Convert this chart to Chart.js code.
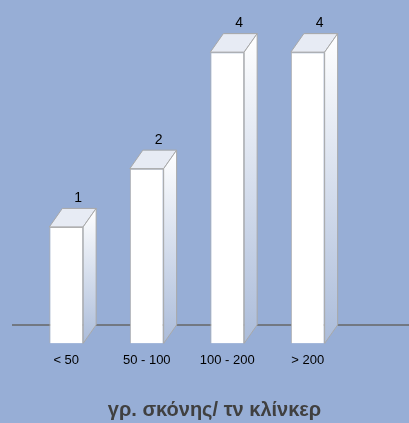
<!DOCTYPE html>
<html>
<head>
<meta charset="utf-8">
<script src="https://cdn.jsdelivr.net/npm/chart.js@4/dist/chart.umd.min.js"></script>
<style>
html,body{margin:0;padding:0;background:#97aed6;}
#wrap{width:409px;height:423px;position:relative;}
</style>
</head>
<body>
<div id="wrap"><canvas id="c" width="409" height="423"></canvas></div>
<script>
const categories = ['< 50', '50 - 100', '100 - 200', '> 200'];
const values = [1, 2, 4, 4];
const axisTitle = 'γρ. σκόνης/ τν κλίνκερ';

const depthX = 13, depthY = 18.5;

const bars3d = {
  id: 'bars3d',
  beforeDatasetsDraw(chart) {
    const ctx = chart.ctx;
    const meta = chart.getDatasetMeta(0);
    const els = meta.data;
    if (!els.length) return;
    const base0 = els[0].getProps(['base'], true).base;
    ctx.save();
    ctx.strokeStyle = '#666';
    ctx.lineWidth = 1.5;
    ctx.beginPath();
    ctx.moveTo(chart.chartArea.left - 14, base0 - depthY);
    ctx.lineTo(chart.width, base0 - depthY);
    ctx.stroke();
    els.forEach(el => {
      const p = el.getProps(['x', 'y', 'base', 'width'], true);
      const l = p.x - p.width / 2, r = p.x + p.width / 2;
      ctx.beginPath();
      ctx.moveTo(l, p.y);
      ctx.lineTo(l + depthX, p.y - depthY);
      ctx.lineTo(r + depthX, p.y - depthY);
      ctx.lineTo(r, p.y);
      ctx.closePath();
      ctx.fillStyle = '#e7ebf4';
      ctx.fill();
      ctx.strokeStyle = '#a8a8a8';
      ctx.lineWidth = 1;
      ctx.stroke();
      const g = ctx.createLinearGradient(0, p.y - depthY, 0, p.base);
      g.addColorStop(0, '#ffffff');
      g.addColorStop(1, '#abbcda');
      ctx.beginPath();
      ctx.moveTo(r, p.y);
      ctx.lineTo(r + depthX, p.y - depthY);
      ctx.lineTo(r + depthX, p.base - depthY);
      ctx.lineTo(r, p.base);
      ctx.closePath();
      ctx.fillStyle = g;
      ctx.fill();
      ctx.stroke();
    });
    ctx.restore();
  },
  afterDatasetsDraw(chart) {
    const ctx = chart.ctx;
    const meta = chart.getDatasetMeta(0);
    ctx.save();
    ctx.fillStyle = '#000';
    ctx.font = '14px "Liberation Sans", Arial, sans-serif';
    ctx.textAlign = 'center';
    ctx.textBaseline = 'middle';
    meta.data.forEach((el, i) => {
      const p = el.getProps(['x', 'y'], true);
      ctx.fillText(String(values[i]), p.x + depthX - 1, p.y - depthY - 10);
    });
    ctx.restore();
  },
  afterDraw(chart) {
    const ctx = chart.ctx;
    ctx.save();
    ctx.fillStyle = '#404040';
    ctx.font = 'bold 20px "Liberation Sans", Arial, sans-serif';
    ctx.textAlign = 'center';
    ctx.textBaseline = 'alphabetic';
    ctx.fillText(axisTitle, chart.width / 2 + 10, chart.height - 7);
    ctx.restore();
  }
};

new Chart(document.getElementById('c'), {
  type: 'bar',
  data: {
    labels: categories,
    datasets: [{
      data: values,
      base: -1,
      backgroundColor: '#ffffff',
      borderColor: '#b0b0b0',
      borderWidth: 1,
      barPercentage: 0.42,
      categoryPercentage: 1
    }]
  },
  options: {
    responsive: false,
    animation: false,
    events: [],
    layout: { padding: { left: 26, right: 61, top: 23, bottom: 46 } },
    plugins: { legend: { display: false }, tooltip: { enabled: false } },
    scales: {
      y: { display: false, min: -1, max: 4.5 },
      x: {
        grid: { display: false, drawTicks: false },
        border: { display: false },
        ticks: {
          color: '#000',
          padding: 9,
          autoSkip: false,
          maxRotation: 0,
          font: { family: '"Liberation Sans", Arial, sans-serif', size: 13 }
        },
        title: { display: false, text: axisTitle }
      }
    }
  },
  plugins: [bars3d]
});
</script>
</body>
</html>
